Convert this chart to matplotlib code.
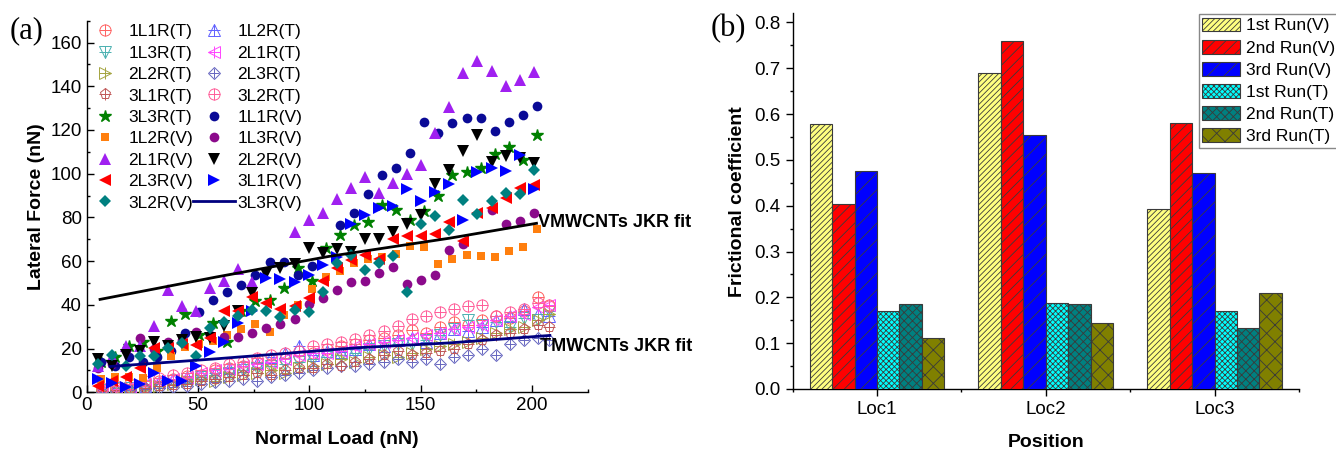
import matplotlib
matplotlib.use("Agg")
import numpy as np
import matplotlib.pyplot as plt
from matplotlib.legend_handler import HandlerTuple
from matplotlib.ticker import MultipleLocator, FixedLocator

plt.rcParams["font.family"] = ["Liberation Sans", "DejaVu Sans"]
plt.rcParams["hatch.linewidth"] = 0.6

# ---------------------------------------------------------------------------
# DATA (panel a) - normal load grids
LOAD_A = [4.9, 11.2, 17.5, 23.9, 30.2, 36.5, 42.8, 49.1, 55.5, 61.8, 68.1,
          74.4, 80.7, 87.0, 93.4, 99.7, 106.0, 112.3, 118.6, 124.9, 131.3,
          137.6, 143.9, 150.2, 156.5, 162.8, 169.2, 175.5, 181.8, 188.1,
          194.4, 200.7]
LOAD_B = [6.3, 12.6, 18.9, 25.3, 31.6, 37.9, 44.2, 50.5, 56.9, 63.2, 69.5,
          75.8, 82.1, 88.4, 94.8, 101.1, 107.4, 113.7, 120.0, 126.3, 132.7,
          139.0, 145.3, 151.6, 157.9, 164.2, 170.6, 176.9, 183.2, 189.5,
          195.8, 202.1]
LOAD_T = [7.0, 13.3, 19.6, 26.0, 32.3, 38.6, 44.9, 51.2, 57.6, 63.9, 70.2,
          76.5, 82.8, 89.1, 95.5, 101.8, 108.1, 114.4, 120.7, 127.0, 133.4,
          139.7, 146.0, 152.3, 158.6, 164.9, 171.3, 177.6, 183.9, 190.2,
          196.5, 202.8, 207.5]

nan = np.nan
# TMWCNTs (T) series
T_1L1R = [1, 2, 2.5, 3.5, 5, 6, 7.5, 8, 10, 11, 12, 14, 13, 15, 16.5, 18, 20,
          21, 22, 24, 25, 26, 28.6, 27, 30, 32, 31, 33, 35, 34, 37, 43.6, 40]
T_1L2R = [0.5, 1.5, 2, 3, 4.5, 6, 7, 8, 9, 11, 12, 13.5, 16, 18, 21.3, 17, 19,
          18.5, 20, 22, 21, 24, 25, 23, 27, 29, 28, 30, 33, 35, 38, 36, 35]
T_1L3R = [1, 2, 2, 3, 4, 5, 6, 7, 8, 9, 10, 11, 12, 13, 14, 15, 16, 17, 18,
          20, 21, 22, 22, 24, 26, 29, 33, 31, 32, 30, 34, 33, 37]
T_2L1R = [1, 1.5, 2.5, 4, 5, 6, 7, 9, 10, 10.5, 12, 13, 14, 15, 17, 18, 18,
          19, 21, 22, 23, 24, 25, 26, 27, 29, 30, 31, 33, 35, 36, 39, 40]
T_2L2R = [0, 1, 1.5, 2, 3, 4, 5, 6, 5, 7, 8, 9, 10, 9, 11, 12, 13, 15, 14, 16,
          17, 16, 18, 20, 21, 22, 23, 25, 27, 29, 30, 33, 36]
T_2L3R = [0, 0.5, 1, 1.5, 2, 2.5, 3, 4, 4.5, 5, 6, 5, 7, 8, 9, 10, 11, 12, 12,
          13, 14, 15, 14, 15, 13, 16, 17, 20, 17, 22, 24, 25, 24]
T_3L1R = [0.5, 1, 1.5, 2, 3, 3.5, 4, 5, 6, 7, 8, 9, 8, 10, 11, 11, 13, 12, 14,
          15, 17, 19, 17, 18, 19, 20, 22, 24, 26, 27, 29, 31, 30]
T_3L2R = [2, 3, 4, 5, 6.5, 8, 9, 10, 11, 13, 14, 15.5, 17, 18, 19, 21, 22, 23,
          24.5, 26, 28, 30.1, 33.6, 34.7, 36.7, 38.1, 39.7, 40, 35, 36.7, 38,
          41, 39.6]
# 3L3R(T) (on LOAD_B)
T_3L3R = [14, 16, 21.2, 23, 19, 32.4, 35.8, 26, 31.9, 23, 37.2, 41.6, 42.3,
          47.8, 57, 50.7, 66, 72, 76.7, 78, 85.5, 83.2, 78.7, 82.8, 90, 99.5,
          100.9, 102.8, 108.9, 112.4, 106.2, 117.7]

# VMWCNTs (V) series
V_1L1R = [14, 12, 16, 14, 16, 19, 27, 36.5, 42, 46, 49.3, 53.5, 59.5, 59.5,
          53.6, 58, nan, 76.6, 82, 90.8, 99.4, 102.4, 109.3, 123.7, 118.5,
          123.4, 125.7, 125.4, 119.5, 123.7, 126.7, 131]              # LOAD_B
V_1L2R = [6.1, 7, 7, 6.6, 11, 16.4, 20.5, 22.2, 23.3, 26.3, 28.9, 31.2, 27.8,
          35.5, 40, 47.4, 52.6, 55.4, 59.2, 61, 61.9, 63.4, 67.1, 66.3, 58.9,
          61, 63, 62.5, 61.9, 64.5, 66.5, 74.8]                       # LOAD_B
V_1L3R = [11, 13, 19.4, 24.8, 20, 23.2, 24, 27.8, 26, 25.1, 25.2, 27, 29.2,
          31.3, 33.5, 40.3, 43.1, 46.8, 50.3, 51, 54.6, 57.3, 49.5, 51.5,
          53.8, 65, 68, nan, 83.6, 77.1, 78.3, 82.1]
V_2L1R = [12, 16, 21, 21.4, 30.5, 46.6, 39.3, 37.3, 47.8, 50.7, 56.6, 50.3,
          nan, nan, 73.5, 78.7, 81.8, 88.5, 93.6, 98.6, 91.2, 95.6, 99.7,
          104.1, 118.6, 130.6, 146.3, 151.6, 147, 140.2, 143, 146.6]
V_2L2R = [15.3, 12.2, 17.2, 19, 22.8, 21, 24, 25.2, 25, 30.4, 37, 45.4, 54,
          56.7, 58.5, 65.8, 63.6, 65.5, 64, 70, 70.2, 73.2, 77.2, 81.3, 95.1,
          101.7, 110.4, 117.7, 105.4, 108.2, 107.3, 104.9]
V_2L3R = [3, 5, 6.9, 11, 20.2, 20.2, 22, 21.7, 24.8, 37, 37.4, 43.8, 41, 38.3,
          39.4, 43.2, 50.7, 57, 60.7, 63, 61.1, 69.9, 71.7, 71.7, 72.2, 78,
          69.1, 82.1, 84.4, 89, 93.3, 94.8]
V_3L1R = [6, 4.1, 2.6, 3.7, 8.8, 5.2, 5.1, 12, 18.4, 22.8, 31.6, 37, 52.4, 52,
          50.5, 53.8, 58.2, 62, 77, 81.3, 84.4, 85.4, 93.1, 87.4, 91.7, 95.4,
          79, 101, 102.8, 101.2, 108.4, 92.8]
V_3L2R = [13, 17.1, 11.8, 16.4, 16.4, 20.2, 22.5, 16.4, 29.6, 32, 34.7, 37.8,
          37.3, 34.5, 37.8, 36.7, 45.7, 59.2, 63, 55.8, 59.2, 62.2, 45.7, 77,
          80.6, 74.1, 87.8, 81.7, 87.4, 91, 90.5, 101.5]

# JKR fits
VFIT_X = [6, 58, 109, 163, 202]
VFIT_Y = [42.5, 52.7, 62.2, 70.5, 77.3]
TFIT_X = [10.5, 58, 122, 163, 208]
TFIT_Y = [11.8, 15.3, 20.4, 22.6, 26.0]

# DATA (panel b)
LOCATIONS = ["Loc1", "Loc2", "Loc3"]
RUN_LABELS = ["1st Run(V)", "2nd Run(V)", "3rd Run(V)",
              "1st Run(T)", "2nd Run(T)", "3rd Run(T)"]
RUN1_V = [0.578, 0.690, 0.393]
RUN2_V = [0.403, 0.759, 0.580]
RUN3_V = [0.476, 0.555, 0.472]
RUN1_T = [0.171, 0.188, 0.171]
RUN2_T = [0.185, 0.186, 0.133]
RUN3_T = [0.112, 0.143, 0.210]

# ---------------------------------------------------------------------------
fig = plt.figure(figsize=(13.36, 4.51), dpi=100)
ax_a = fig.add_axes([0.0649, 0.1302, 0.375, 0.8239])
ax_b = fig.add_axes([0.5933, 0.1375, 0.379, 0.8330])

# PANEL (a)
T_STYLE = [
    ("1L1R(T)", T_1L1R, "#FF6060", "o"),
    ("1L2R(T)", T_1L2R, "#5F5FFF", "^"),
    ("1L3R(T)", T_1L3R, "#4AB0B0", "v"),
    ("2L1R(T)", T_2L1R, "#FF44FF", "<"),
    ("2L2R(T)", T_2L2R, "#A4A440", ">"),
    ("2L3R(T)", T_2L3R, "#6666C0", "D"),
    ("3L1R(T)", T_3L1R, "#C05858", "p"),
    ("3L2R(T)", T_3L2R, "#FF5C98", "o"),
]
handles = []
for label, y, c, m in T_STYLE:
    ms = 6.5 if m == "D" else 8
    h1, = ax_a.plot(LOAD_T, y, ls="none", marker=m, mfc="none", mec=c,
                    ms=ms, mew=0.7, zorder=3)
    h2, = ax_a.plot(LOAD_T, y, ls="none", marker="+", mec=c,
                    ms=ms * 1.05, mew=0.7, zorder=3)
    handles.append(((h1, h2), label))

h, = ax_a.plot(LOAD_B, T_3L3R, ls="none", marker="*", color="#008000",
               ms=9, zorder=4)
handles.append((h, "3L3R(T)"))

V_STYLE = [
    ("1L1R(V)", LOAD_B, V_1L1R, "#0A0A96", "o", 7),
    ("1L2R(V)", LOAD_B, V_1L2R, "#FF7F0E", "s", 6),
    ("1L3R(V)", LOAD_A, V_1L3R, "#8B0A8B", "o", 7),
    ("2L1R(V)", LOAD_A, V_2L1R, "#A020F0", "^", 8),
    ("2L2R(V)", LOAD_A, V_2L2R, "black", "v", 8),
    ("2L3R(V)", LOAD_A, V_2L3R, "#FF0000", "<", 8),
    ("3L1R(V)", LOAD_A, V_3L1R, "#0000FF", ">", 8),
    ("3L2R(V)", LOAD_A, V_3L2R, "#008080", "D", 6.5),
]
for label, x, y, c, m, ms in V_STYLE:
    h, = ax_a.plot(x, y, ls="none", marker=m, color=c, ms=ms, mew=0,
                   zorder=4)
    handles.append((h, label))

ax_a.plot(VFIT_X, VFIT_Y, color="black", lw=2, zorder=5)
h, = ax_a.plot(TFIT_X, TFIT_Y, color="#00007F", lw=2, zorder=5)
handles.append((h, "3L3R(V)"))

ax_a.text(202.5, 77.5, "VMWCNTs JKR fit", fontsize=13, fontweight="bold",
          va="center", ha="left", clip_on=False)
ax_a.text(203.5, 21, "TMWCNTs JKR fit", fontsize=13, fontweight="bold",
          va="center", ha="left", clip_on=False)

# legend row-wise in two columns
order = list(range(0, 18, 2)) + list(range(1, 18, 2))
leg = ax_a.legend([handles[i][0] for i in order],
                  [handles[i][1] for i in order],
                  handler_map={tuple: HandlerTuple(ndivide=1)},
                  ncol=2, loc="upper left", bbox_to_anchor=(-0.012, 1.0),
                  frameon=False, fontsize=12.5, handlelength=2.4,
                  handletextpad=0.15, columnspacing=0.0, labelspacing=0.36,
                  borderpad=0.2, borderaxespad=0)

ax_a.set_xlim(0, 225)
ax_a.set_ylim(0, 170)
ax_a.xaxis.set_major_locator(MultipleLocator(50))
ax_a.xaxis.set_minor_locator(MultipleLocator(25))
ax_a.yaxis.set_major_locator(FixedLocator(range(0, 161, 20)))
ax_a.yaxis.set_minor_locator(MultipleLocator(10))
ax_a.tick_params(which="both", direction="in", labelsize=13.5, width=1)
ax_a.tick_params(which="major", length=5)
ax_a.tick_params(which="minor", length=2.5)
for s in ["top", "right"]:
    ax_a.spines[s].set_visible(False)
for s in ["left", "bottom"]:
    ax_a.spines[s].set_linewidth(1)
ax_a.set_xlabel("Normal Load (nN)", fontsize=14, fontweight="bold",
                labelpad=12)
ax_a.set_ylabel("Lateral Force (nN)", fontsize=14, fontweight="bold",
                labelpad=4)
fig.text(0.007, 0.915, "(a)", fontsize=22, family="Liberation Serif")

# PANEL (b)
runs = [RUN1_V, RUN2_V, RUN3_V, RUN1_T, RUN2_T, RUN3_T]
colors = ["#FFFF80", "#FF0000", "#0000FF", "#00FFFF", "#008080", "#808000"]
hatches = ["//////", "///", "//", "xxxxxx", "xxxx", "xx"]
pos = np.arange(1, len(LOCATIONS) + 1)
w = 0.133
for i, vals in enumerate(runs):
    ax_b.bar(pos + (i - 2.5) * w, vals, width=w, color=colors[i],
             edgecolor="#3A3A3A", hatch=hatches[i], lw=0.8,
             label=RUN_LABELS[i], zorder=3)

ax_b.set_xlim(0.5, 3.5)
ax_b.set_ylim(0, 0.82)
ax_b.set_xticks(pos)
ax_b.set_xticklabels(LOCATIONS)
ax_b.xaxis.set_minor_locator(FixedLocator([0.5, 1.5, 2.5, 3.5]))
ax_b.yaxis.set_major_locator(FixedLocator(np.arange(0, 0.81, 0.1)))
ax_b.yaxis.set_major_formatter(plt.FuncFormatter(lambda v, p: f"{v:.1f}"))
ax_b.yaxis.set_minor_locator(MultipleLocator(0.05))
ax_b.tick_params(which="both", direction="out", labelsize=13.5, width=1)
ax_b.tick_params(which="major", length=5)
ax_b.tick_params(which="minor", length=2.5)
for s in ["top", "right"]:
    ax_b.spines[s].set_visible(False)
for s in ["left", "bottom"]:
    ax_b.spines[s].set_linewidth(1)
ax_b.set_xlabel("Position", fontsize=14, fontweight="bold", labelpad=12)
ax_b.set_ylabel("Frictional coefficient", fontsize=14, fontweight="bold",
                labelpad=6)
ax_b.legend(loc="upper left", bbox_to_anchor=(0.802, 0.998), fontsize=12.5,
            fancybox=False, edgecolor="#888888", framealpha=1,
            handlelength=2.2, handleheight=0.85, handletextpad=0.3,
            labelspacing=0.36, borderpad=0.2, borderaxespad=0)
fig.text(0.532, 0.92, "(b)", fontsize=22, family="Liberation Serif")

fig.savefig("out.png", dpi=100)
